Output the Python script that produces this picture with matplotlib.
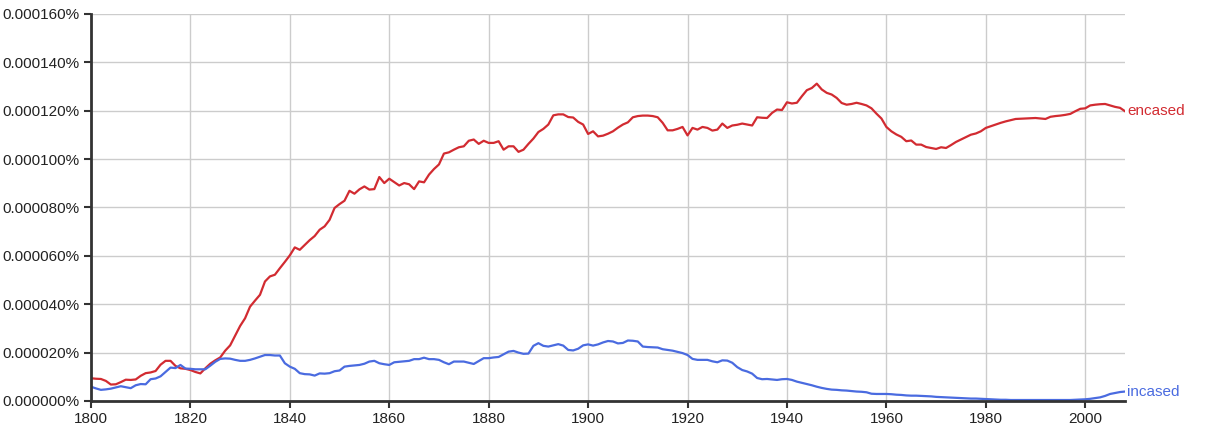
import numpy as np
import matplotlib
matplotlib.use("Agg")
import matplotlib.pyplot as plt
from matplotlib.ticker import FuncFormatter

plt.rcParams["font.family"] = ["Liberation Sans", "DejaVu Sans"]

# values in millionths of a percent (20 -> 0.000020%)
years = np.arange(1800, 2009)

encased = [
    9.4, 9.2, 9.1, 8.3, 6.8, 6.9, 7.8, 8.8, 8.7, 8.9,
    10.4, 11.5, 11.8, 12.4, 15.0, 16.6, 16.6, 14.5, 13.5, 13.3,
    12.8, 12.0, 11.4, 13.5, 15.4, 16.8, 18.0, 20.8, 23.0, 27.0,
    31.0, 34.2, 39.0, 41.5, 43.9, 49.4, 51.5, 52.2, 54.9, 57.5,
    60.2, 63.5, 62.5, 64.5, 66.5, 68.2, 70.8, 72.2, 74.9, 79.8,
    81.4, 82.8, 86.9, 85.7, 87.5, 88.7, 87.4, 87.6, 92.6, 90.1,
    91.9, 90.5, 89.1, 90.1, 89.6, 87.6, 90.8, 90.4, 93.6, 95.9,
    97.8, 102.3, 102.8, 103.9, 104.9, 105.3, 107.6, 108.1, 106.3, 107.6,
    106.7, 106.7, 107.4, 103.9, 105.3, 105.3, 103.0, 103.9, 106.3, 108.5,
    111.2, 112.5, 114.3, 118.1, 118.5, 118.5, 117.4, 117.2, 115.4, 114.3,
    110.4, 111.5, 109.4, 109.7, 110.5, 111.5, 113.0, 114.3, 115.2, 117.3,
    117.8, 118.0, 118.0, 117.8, 117.3, 115.0, 111.9, 111.9, 112.5, 113.3,
    109.8, 112.9, 112.2, 113.3, 112.9, 111.8, 112.2, 114.7, 112.9, 113.9,
    114.2, 114.7, 114.3, 113.9, 117.3, 117.1, 117.0, 119.1, 120.5, 120.3,
    123.5, 123.0, 123.3, 126.0, 128.5, 129.4, 131.2, 128.8, 127.4, 126.7,
    125.3, 123.2, 122.5, 122.8, 123.3, 122.8, 122.2, 121.0, 118.8, 116.8,
    113.3, 111.5, 110.2, 109.2, 107.4, 107.7, 106.0, 106.0, 105.0, 104.6,
    104.2, 104.9, 104.6, 105.8, 107.1, 108.1, 109.1, 110.1, 110.6, 111.5,
    112.9, 113.6, 114.3, 115.0, 115.6, 116.1, 116.6, 116.7, 116.8, 116.9,
    117.0, 116.8, 116.6, 117.5, 117.8, 118.0, 118.3, 118.7, 119.8, 120.8,
    121.0, 122.2, 122.5, 122.7, 122.8, 122.2, 121.6, 121.2, 119.8,
]

incased = [
    5.9, 5.2, 4.6, 4.8, 5.1, 5.6, 6.1, 5.7, 5.3, 6.5,
    7.0, 6.9, 9.0, 9.3, 10.2, 12.0, 13.8, 13.6, 14.9, 13.4,
    13.3, 13.1, 13.1, 13.1, 14.6, 16.2, 17.4, 17.6, 17.5, 17.0,
    16.6, 16.6, 17.0, 17.6, 18.3, 19.0, 19.0, 18.8, 18.8, 15.6,
    14.2, 13.3, 11.5, 11.1, 11.0, 10.5, 11.4, 11.3, 11.5, 12.3,
    12.6, 14.2, 14.5, 14.7, 14.9, 15.4, 16.3, 16.6, 15.6, 15.2,
    14.9, 16.0, 16.2, 16.4, 16.6, 17.3, 17.3, 17.9, 17.3, 17.3,
    17.0, 16.0, 15.2, 16.3, 16.3, 16.3, 15.8, 15.3, 16.5, 17.7,
    17.7, 18.0, 18.2, 19.3, 20.4, 20.7, 20.0, 19.5, 19.6, 22.8,
    23.9, 22.8, 22.5, 23.0, 23.5, 22.9, 21.1, 20.9, 21.6, 23.0,
    23.4, 22.9, 23.4, 24.2, 24.8, 24.6, 23.8, 24.0, 25.0, 24.9,
    24.6, 22.5, 22.3, 22.2, 22.1, 21.4, 21.1, 20.8, 20.3, 19.8,
    19.0, 17.4, 17.0, 17.0, 17.0, 16.4, 16.0, 16.8, 16.7, 15.8,
    14.0, 12.8, 12.2, 11.3, 9.5, 9.0, 9.1, 8.9, 8.7, 9.0,
    9.1, 8.7, 8.0, 7.5, 7.0, 6.5, 5.9, 5.4, 5.0, 4.7,
    4.6, 4.4, 4.3, 4.1, 3.9, 3.8, 3.6, 3.0, 2.9, 2.9,
    2.9, 2.8, 2.6, 2.5, 2.3, 2.2, 2.2, 2.1, 2.0, 1.9,
    1.7, 1.6, 1.5, 1.4, 1.3, 1.2, 1.1, 1.0, 1.0, 0.9,
    0.8, 0.7, 0.6, 0.5, 0.5, 0.4, 0.4, 0.4, 0.4, 0.4,
    0.4, 0.4, 0.4, 0.4, 0.4, 0.4, 0.4, 0.4, 0.5, 0.6,
    0.7, 0.9, 1.2, 1.5, 2.1, 2.9, 3.3, 3.7, 3.9,
]

red = "#d22b31"
blue = "#4a6be0"

fig = plt.figure(figsize=(12.08, 4.32), dpi=100)
ax = fig.add_axes([0.0753, 0.0718, 0.8560, 0.8958])

ax.plot(years, encased, color=red, lw=1.6, solid_joinstyle="round")
ax.plot(years, incased, color=blue, lw=1.6, solid_joinstyle="round")

ax.text(2008.5, encased[-1], "encased", color=red, fontsize=11,
        va="center", ha="left", clip_on=False)
ax.text(2008.5, incased[-1], "incased", color=blue, fontsize=11,
        va="center", ha="left", clip_on=False)

ax.set_xlim(1800, 2008)
ax.set_ylim(0, 160)
ax.set_xticks(np.arange(1800, 2001, 20))
ax.set_yticks(np.arange(0, 161, 20))
ax.yaxis.set_major_formatter(FuncFormatter(lambda v, p: f"{v * 1e-6:.6f}%"))

ax.grid(True, color="#cccccc", lw=1)
ax.set_axisbelow(True)
for s in ["top", "right"]:
    ax.spines[s].set_visible(False)
for s in ["left", "bottom"]:
    ax.spines[s].set_color("#333333")
    ax.spines[s].set_linewidth(2)
ax.tick_params(axis="both", colors="#333333", labelcolor="#222222",
               labelsize=11, length=5, width=1.5, pad=3)

fig.savefig("out.png", dpi=100)
